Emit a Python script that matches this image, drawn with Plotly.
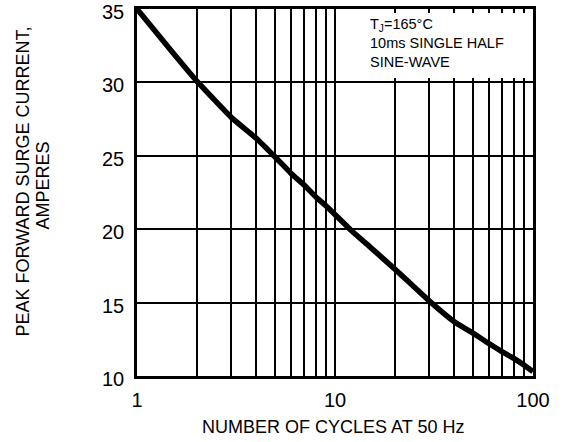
import plotly.graph_objects as go

cycles = [1, 1.5, 2, 3, 4, 5, 6, 7, 8, 9, 10, 12, 15, 20, 30, 40, 50, 60, 70, 80, 90, 100]
current = [35, 32.1, 30.1, 27.6, 26.2, 24.9, 23.8, 23.0, 22.2, 21.6, 21.0, 19.95, 18.8, 17.3, 15.1, 13.7,
           12.9, 12.2, 11.65, 11.2, 10.75, 10.3]

x_grid = [1, 2, 3, 4, 5, 6, 7, 8, 9, 10, 20, 30, 40, 50, 60, 70, 80, 90, 100]
x_labels = ["1" if v == 1 else "10" if v == 10 else "100" if v == 100 else "" for v in x_grid]
y_ticks = [10, 15, 20, 25, 30, 35]

FONT = "Liberation Sans, Arial, sans-serif"

L, R, T, B = 137, 533, 9, 376
W, H = R - L, B - T


def px(x):
    return (x - L) / W


def py(y):
    return (B - y) / H


fig = go.Figure()
fig.add_trace(go.Scatter(x=cycles, y=current, mode="lines",
                         line=dict(color="black", width=5.5, shape="spline", smoothing=0.3),
                         showlegend=False, hoverinfo="skip"))

fig.update_layout(
    width=565, height=442,
    margin=dict(l=L, r=565 - R, t=T, b=442 - B, autoexpand=False),
    paper_bgcolor="white", plot_bgcolor="white",
    font=dict(family=FONT, color="black"),
    xaxis=dict(type="log", range=[0, 2], tickvals=x_grid, ticktext=x_labels, automargin=False,
               ticklabeloverflow="allow",
               showgrid=True, gridcolor="black", gridwidth=2, zeroline=False,
               showline=True, linecolor="black", linewidth=2.5, mirror=True,
               ticks="", tickfont=dict(size=20, family=FONT), ticklabelstandoff=4),
    yaxis=dict(range=[10, 35], tickvals=y_ticks, automargin=False,
               ticklabeloverflow="allow", ticklabelshift=3,
               showgrid=True, gridcolor="black", gridwidth=2, zeroline=False,
               showline=True, linecolor="black", linewidth=2.5, mirror=True,
               ticks="", tickfont=dict(size=20, family=FONT), ticklabelstandoff=6),
)

fig.add_shape(type="rect", xref="paper", yref="paper", x0=px(365), x1=px(530),
              y0=py(78), y1=py(13), fillcolor="white", line=dict(width=0), layer="above")

fig.add_annotation(xref="paper", yref="paper", x=px(368), y=py(14), xanchor="left", yanchor="top",
                   align="left", showarrow=False,
                   text="T<sub>J</sub>=165°C<br>10ms SINGLE HALF<br>SINE-WAVE",
                   font=dict(size=14.5, family=FONT, color="black"))

fig.add_annotation(xref="paper", yref="paper", x=px(22.5), y=py(182), xanchor="center", yanchor="middle",
                   textangle=-90, showarrow=False,
                   text="PEAK FORWARD SURGE CURRENT,",
                   font=dict(size=18, family=FONT, color="black"))
fig.add_annotation(xref="paper", yref="paper", x=px(42.5), y=py(186), xanchor="center", yanchor="middle",
                   textangle=-90, showarrow=False,
                   text="AMPERES",
                   font=dict(size=18, family=FONT, color="black"))

fig.add_annotation(xref="paper", yref="paper", x=px(333), y=py(427), xanchor="center", yanchor="middle",
                   showarrow=False, text="NUMBER OF CYCLES AT 50 Hz",
                   font=dict(size=18, family=FONT, color="black"))

fig.write_html("out.html", config={"displayModeBar": False},
               post_script="document.body.style.margin='0';")
